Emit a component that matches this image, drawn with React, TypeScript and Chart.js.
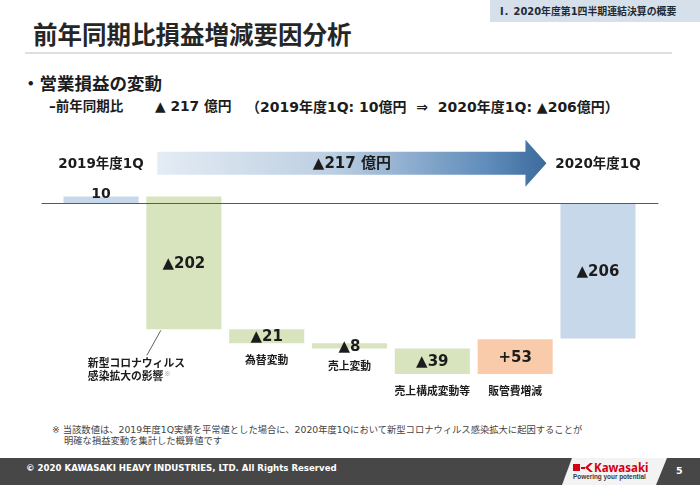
import React, { useEffect, useRef } from 'react';
import { Chart, registerables } from 'chart.js';

Chart.register(...registerables);

// ---- data ----
const categories = [
  '2019年度1Q',
  '新型コロナウィルス\n感染拡大の影響',
  '為替変動',
  '売上変動',
  '売上構成変動等',
  '販管費増減',
  '2020年度1Q',
];
const changes = [10, -202, -21, -8, -39, 53, -206];
const kinds = ['total', 'delta', 'delta', 'delta', 'delta', 'delta', 'total'];
const valueLabels = ['10', '▲202', '▲21', '▲8', '▲39', '+53', '▲206'];
const arrowLabel = '▲217 億円';

const FONT = '"DejaVu Sans", "Noto Sans CJK JP", sans-serif';
const JP = '"Noto Sans CJK JP", sans-serif';
const TEXT = '#1c1c1c';

function buildRanges(): [number, number][] {
  const out: [number, number][] = [];
  let running = 0;
  changes.forEach((v, i) => {
    if (kinds[i] === 'total') {
      out.push([0, v]);
      running = v;
    } else {
      out.push([running, running + v]);
      running += v;
    }
  });
  return out;
}

function barColor(i: number): string {
  if (kinds[i] === 'total') return '#c7d8ea';
  return changes[i] < 0 ? '#d7e4bd' : '#f9cbab';
}

const decor = {
  id: 'waterfallDecor',
  afterDatasetsDraw(chart: any) {
    const ctx: CanvasRenderingContext2D = chart.ctx;
    const meta = chart.getDatasetMeta(0);
    const y0 = chart.scales.y.getPixelForValue(0);
    const { left, right, top: areaTop } = chart.chartArea;
    ctx.save();

    // zero line
    ctx.strokeStyle = '#5a5a5a';
    ctx.lineWidth = 1;
    ctx.beginPath();
    ctx.moveTo(left - 18, Math.round(y0) + 0.5);
    ctx.lineTo(right + 19, Math.round(y0) + 0.5);
    ctx.stroke();

    const bars = meta.data.map((b: any) => {
      const p = b.getProps(['x', 'y', 'base', 'width'], true);
      return {
        x: p.x,
        top: Math.min(p.y, p.base),
        bottom: Math.max(p.y, p.base),
        w: p.width,
      };
    });

    // arrow between the two totals
    const first = bars[1];
    const last = bars[bars.length - 1];
    const bodyLeft = first.x - first.w / 2 + 11;
    const tip = last.x - last.w / 2 - 14;
    const headBase = tip - 21;
    const ay = areaTop - 20;
    const grad = ctx.createLinearGradient(bodyLeft, 0, tip, 0);
    grad.addColorStop(0, '#e4ecf4');
    grad.addColorStop(0.45, '#bccfe2');
    grad.addColorStop(0.85, '#5f8cba');
    grad.addColorStop(1, '#3b6b9c');
    ctx.fillStyle = grad;
    ctx.beginPath();
    ctx.moveTo(bodyLeft, ay - 11.5);
    ctx.lineTo(headBase, ay - 11.5);
    ctx.lineTo(headBase, ay - 23.5);
    ctx.lineTo(tip, ay);
    ctx.lineTo(headBase, ay + 23.5);
    ctx.lineTo(headBase, ay + 11.5);
    ctx.lineTo(bodyLeft, ay + 11.5);
    ctx.closePath();
    ctx.fill();
    ctx.fillStyle = TEXT;
    ctx.font = `bold 15px ${FONT}`;
    ctx.textAlign = 'center';
    ctx.textBaseline = 'middle';
    ctx.fillText(arrowLabel, (bodyLeft + tip) / 2, ay + 1);

    bars.forEach((b: any, i: number) => {
      ctx.fillStyle = TEXT;
      ctx.textAlign = 'center';
      ctx.textBaseline = 'middle';
      // value labels
      if (i === 0) {
        ctx.font = `bold 14px ${FONT}`;
        ctx.fillText(valueLabels[i], b.x, b.top - 2);
      } else {
        ctx.font = `bold 15px ${FONT}`;
        ctx.fillText(valueLabels[i], b.x, (b.top + b.bottom) / 2 + 1);
      }
      // category labels
      const label = categories[i];
      if (kinds[i] === 'total') {
        ctx.font = `bold 13.5px ${FONT}`;
        ctx.fillText(label, b.x, ay + 1);
      } else if (label.includes('\n')) {
        const lines = label.split('\n');
        ctx.strokeStyle = '#606060';
        ctx.lineWidth = 1;
        ctx.beginPath();
        ctx.moveTo(b.x - 23, b.bottom + 1);
        ctx.lineTo(b.x - 37, b.bottom + 26);
        ctx.stroke();
        ctx.font = `bold 10.8px ${JP}`;
        ctx.textAlign = 'left';
        const lx = b.x - 96;
        ctx.fillText(lines[0], lx, b.bottom + 34);
        ctx.fillText(lines[1], lx, b.bottom + 47);
        const w = ctx.measureText(lines[1]).width;
        ctx.font = `6.5px ${JP}`;
        ctx.fillStyle = '#8a8a8a';
        ctx.fillText('※', lx + w + 0.5, b.bottom + 44);
      } else {
        ctx.font = `bold 10.8px ${JP}`;
        ctx.fillText(label, b.x, b.bottom + 17);
      }
    });
    ctx.restore();
  },
};

function WaterfallChart() {
  const ref = useRef<HTMLCanvasElement>(null);
  useEffect(() => {
    if (!ref.current) return;
    const ranges = buildRanges();
    const chart = new Chart(ref.current, {
      type: 'bar',
      data: {
        labels: categories,
        datasets: [
          {
            data: ranges as any,
            backgroundColor: categories.map((_, i) => barColor(i)),
            borderWidth: 0,
            borderSkipped: false,
            barPercentage: 0.906,
            categoryPercentage: 1,
          },
        ],
      },
      options: {
        responsive: false,
        animation: false,
        layout: { padding: { left: 59.6, right: 60.6, top: 53.3, bottom: 9.6 } },
        plugins: {
          legend: { display: false },
          tooltip: { enabled: false },
          title: { display: false },
        },
        scales: {
          x: { display: false },
          y: { display: false, min: -300, max: 30 },
        },
      },
      plugins: [decor],
    });
    return () => chart.destroy();
  }, []);
  return (
    <canvas
      ref={ref}
      width={700}
      height={280}
      style={{ position: 'absolute', left: 0, top: 130, width: 700, height: 280 }}
    />
  );
}

function Txt(props: {
  x: number;
  y: number;
  size: number;
  bold?: boolean;
  color?: string;
  font?: string;
  children: React.ReactNode;
}) {
  const { x, y, size, bold = true, color = TEXT, font = FONT } = props;
  return (
    <div
      style={{
        position: 'absolute',
        left: x,
        top: y - size / 2,
        fontSize: size,
        lineHeight: `${size}px`,
        height: size,
        fontWeight: bold ? 700 : 400,
        color,
        fontFamily: font,
        whiteSpace: 'pre',
      }}
    >
      {props.children}
    </div>
  );
}

export default function App() {
  return (
    <div
      style={{
        position: 'absolute',
        left: 0,
        top: 0,
        width: 700,
        height: 485,
        background: '#ffffff',
        overflow: 'hidden',
        fontFamily: FONT,
      }}
    >
      {/* header tag */}
      <div style={{ position: 'absolute', left: 490, top: 0, width: 210, height: 22, background: '#d6e0ea' }} />
      <Txt x={500} y={12} size={9.9} color="#1f2a36">
        Ⅰ．2020年度第1四半期連結決算の概要
      </Txt>

      {/* title */}
      <Txt x={33} y={34} size={24.5} color="#262626" font={JP}>
        前年同期比損益増減要因分析
      </Txt>
      <div style={{ position: 'absolute', left: 25, top: 52, width: 647, height: 2, background: '#dedede' }} />

      <Txt x={22} y={83} size={17.5} font={JP}>
        ・営業損益の変動
      </Txt>
      <Txt x={49} y={107} size={13.5}>
        –前年同期比
      </Txt>
      <Txt x={155} y={107} size={13.8}>
        ▲ 217 億円
      </Txt>
      <Txt x={246} y={107} size={14}>
        {'（2019年度1Q: 10億円  ⇒  2020年度1Q: ▲206億円）'}
      </Txt>

      <WaterfallChart />

      {/* footnote */}
      <Txt x={52} y={430} size={9.3} bold={false} color="#454545">
        ※ 当該数値は、2019年度1Q実績を平常値とした場合に、2020年度1Qにおいて新型コロナウィルス感染拡大に起因することが
      </Txt>
      <Txt x={64} y={441} size={9.3} bold={false} color="#454545">
        明確な損益変動を集計した概算値です
      </Txt>

      {/* footer */}
      <div style={{ position: 'absolute', left: 0, top: 458, width: 700, height: 27, background: '#474747' }} />
      <div
        style={{
          position: 'absolute',
          left: 0,
          top: 458,
          width: 700,
          height: 27,
          background: '#f3f3f3',
          clipPath: 'polygon(572px 0px, 667px 0px, 656px 27px, 562px 27px)',
        }}
      />
      <Txt x={26} y={468} size={8.6} color="#ffffff">
        © 2020 KAWASAKI HEAVY INDUSTRIES, LTD. All Rights Reserved
      </Txt>
      {/* logo */}
      <div style={{ position: 'absolute', left: 573, top: 464, width: 7, height: 7, background: '#d40012' }} />
      <div style={{ position: 'absolute', left: 581, top: 466.5, width: 4, height: 2, background: '#d40012' }} />
      <svg style={{ position: 'absolute', left: 584, top: 463 }} width={10} height={9}>
        <polygon points="9,0 6,0 1,4.5 6,9 9,9 4,4.5" fill="#d40012" />
      </svg>
      <Txt x={594} y={467.5} size={11.5} color="#d40012" font='"Noto Sans", sans-serif'>
        Kawasaki
      </Txt>
      <Txt x={573} y={477.5} size={6.4} color="#3a3a3a" font='"Liberation Sans", sans-serif'>
        Powering your potential
      </Txt>
      <Txt x={676} y={471} size={9.5} color="#ffffff">
        5
      </Txt>
    </div>
  );
}
